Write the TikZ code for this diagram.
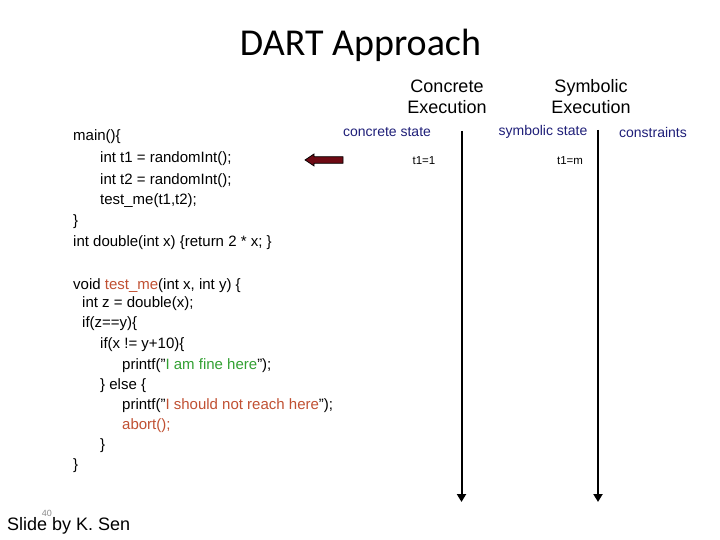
\documentclass[tikz,border=0pt]{standalone}
\usepackage{fontspec}
\setmainfont{Liberation Sans}
\newfontfamily\titlefont{Carlito}
\usetikzlibrary{arrows.meta}
\definecolor{navystate}{RGB}{30,30,120}
\definecolor{callred}{RGB}{192,80,50}
\definecolor{finegreen}{RGB}{50,160,50}
\definecolor{ptrred}{RGB}{110,10,20}
\tikzset{
	code/.style={anchor=west,inner sep=0pt,font=\fontsize{15bp}{18bp}\selectfont},
	hdr/.style={align=center,inner sep=0pt,font=\fontsize{18bp}{21bp}\selectfont},
	colhead/.style={inner sep=0pt,text=navystate,font=\fontsize{14bp}{16bp}\selectfont},
	val/.style={inner sep=0pt,font=\fontsize{11.5bp}{14bp}\selectfont},
	timeline/.style={line width=2bp,-{Triangle[width=9bp,length=8bp]}}
}
\begin{document}
\begin{tikzpicture}[x=1bp,y=-1bp]
		\useasboundingbox (0,0) rectangle (720,540);
		\node[anchor=base,inner sep=0pt,font=\titlefont\fontsize{38bp}{40bp}\selectfont] (title) at (360.5,56) {DART Approach};
		\node[hdr] (conchdr) at (447,97) {Concrete\\Execution};
		\node[hdr] (symhdr) at (591,97) {Symbolic\\Execution};
		\node[colhead] (concstate) at (387,132) {concrete state};
		\node[colhead] (symstate) at (543,132) {symbolic state};
		\node[colhead] (constr) at (653,132) {constraints};
		\node[val] (cval) at (424,161) {t1=1};
		\node[val] (sval) at (570,161) {t1=m};
		% program text
		\node[code] (l1) at (73,137) {main()\{};
		\node[code] (l2) at (100,159) {int t1 = randomInt();};
		\node[code] (l3) at (100,181) {int t2 = randomInt();};
		\node[code] (l4) at (100,201) {test\_me(t1,t2);};
		\node[code] (l5) at (73,222) {\}};
		\node[code] (l6) at (73,243) {int double(int x) \{return 2 * x; \}};
		\node[code] (l7) at (73,286) {void \textcolor{callred}{test\_me}(int x, int y) \{};
		\node[code] (l8) at (82,304) {int z = double(x);};
		\node[code] (l9) at (82,324) {if(z==y)\{};
		\node[code] (l10) at (100,345) {if(x != y+10)\{};
		\node[code] (l11) at (122,366) {printf("\textcolor{finegreen}{I am fine here}");};
		\node[code] (l12) at (100,386) {\} else \{};
		\node[code] (l13) at (122,406) {printf("\textcolor{callred}{I should not reach here}");};
		\node[code] (l14) at (122,426) {\textcolor{callred}{abort();}};
		\node[code] (l15) at (100,446) {\}};
		\node[code] (l16) at (73,466) {\}};
		% current line marker
		\coordinate (ptrtip) at (305,160);
		\draw[fill=ptrred,line width=0.7bp,line join=miter] (ptrtip)--++(9,-6)--++(0,2.7)--++(29,0)--++(0,6.6)--++(-29,0)--++(0,2.7)--cycle;
		% time lines
		\coordinate (ctop) at (461.5,131);
		\coordinate (cbot) at (461.5,502);
		\coordinate (stop) at (598,130);
		\coordinate (sbot) at (598,502);
		\draw[timeline] (ctop)--(cbot);
		\draw[timeline] (stop)--(sbot);
		\node[inner sep=0pt,text=black!45,font=\fontsize{9bp}{10bp}\selectfont] (slideno) at (47,513) {40};
		\node[anchor=west,inner sep=0pt,font=\fontsize{18bp}{20bp}\selectfont] (credit) at (7,526) {Slide by K. Sen};
\end{tikzpicture}
\end{document}
